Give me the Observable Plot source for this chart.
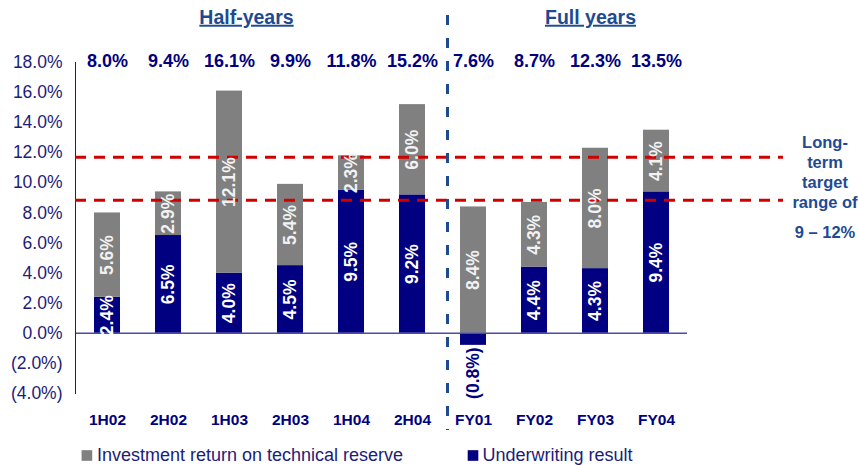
<!DOCTYPE html>
<html><head><meta charset="utf-8">
<script src="https://cdn.jsdelivr.net/npm/d3@7"></script>
<script src="https://cdn.jsdelivr.net/npm/@observablehq/plot@0.6"></script>
<style>html,body{margin:0;padding:0;background:#fff}</style>
</head><body><div id="chart"></div>
<script>
const categories = ["1H02","2H02","1H03","2H03","1H04","2H04","FY01","FY02","FY03","FY04"];
const underwriting = [2.4, 6.5, 4.0, 4.5, 9.5, 9.2, -0.8, 4.4, 4.3, 9.4];
const investment   = [5.6, 2.9, 12.1, 5.4, 2.3, 6.0, 8.4, 4.3, 8.0, 4.1];
const totals       = [8.0, 9.4, 16.1, 9.9, 11.8, 15.2, 7.6, 8.7, 12.3, 13.5];
const yTicks = [-4, -2, 0, 2, 4, 6, 8, 10, 12, 14, 16, 18];
const targetLines = [11.7, 8.85];
const seriesNames = ["Investment return on technical reserve", "Underwriting result"];
const groupTitles = ["Half-years", "Full years"];
const targetText = "Long-\nterm\ntarget\nrange of";
const targetRange = "9 – 12%";

const NAVY = "#000080", GRAY = "#808080", HEAD = "#1f4a92", RED = "#d00000", TXT = "#1c1c7a";
const FONT = "'Liberation Sans', Arial, sans-serif";
const pct = v => v < 0 ? `(${Math.abs(v).toFixed(1)}%)` : `${v.toFixed(1)}%`;

const rows = [
  ...categories.map((c, i) => ({cat: c, series: seriesNames[1], value: underwriting[i]})),
  ...categories.map((c, i) => ({cat: c, series: seriesNames[0], value: investment[i]}))
];
const navyLabels = categories.map((c, i) => ({cat: c, u: underwriting[i]})).filter(d => d.u > 0);
const negLabels = categories.map((c, i) => ({cat: c, u: underwriting[i]})).filter(d => d.u < 0);
const grayLabels = categories.map((c, i) => ({cat: c, base: Math.max(0, underwriting[i]), v: investment[i]}));

const chart = Plot.plot({
  width: 858, height: 465,
  marginLeft: 75, marginRight: 171, marginTop: 62, marginBottom: 72,
  style: {fontFamily: FONT, background: "#fff", overflow: "visible"},
  x: {domain: categories, paddingInner: 0.58, paddingOuter: 0.29},
  y: {domain: [-4, 18]},
  color: {domain: seriesNames, range: [GRAY, NAVY]},
  marks: [
    Plot.barY(rows, {x: "cat", y: "value", fill: "series"}),
    Plot.ruleY([0], {stroke: "#4b4ba8", strokeWidth: 1.5}),
    Plot.frame({anchor: "left", stroke: TXT, strokeWidth: 1}),
    Plot.axisY({ticks: yTicks, tickFormat: pct, tickSize: 0, tickPadding: 13, fontSize: 17.5, fill: TXT}),
    Plot.axisX({tickSize: 0, tickPadding: 20, fontSize: 15.5, fontWeight: "bold", fill: NAVY}),
    Plot.ruleY(targetLines, {stroke: RED, strokeWidth: 3, strokeDasharray: "11,8", insetRight: -96}),
    Plot.ruleX(["2H04"], {stroke: HEAD, strokeWidth: 3, strokeDasharray: "10,13", dx: 35, insetTop: -47, insetBottom: -37}),
    Plot.text(navyLabels, {x: "cat", y: d => d.u / 2, text: d => pct(d.u), rotate: -90, fill: "#fff", fontSize: 17.5, fontWeight: "bold"}),
    Plot.text(grayLabels, {x: "cat", y: d => d.base + d.v / 2, text: d => pct(d.v), rotate: -90, fill: "#f2f2f2", fontSize: 17.5, fontWeight: "bold"}),
    Plot.text(negLabels, {x: "cat", y: "u", text: d => pct(d.u), rotate: -90, textAnchor: "end", dy: 2, fill: NAVY, fontSize: 17.5, fontWeight: "bold"}),
    Plot.text(categories, {x: d => d, y: 18, text: (d, i) => pct(totals[i]), dy: -1, fill: NAVY, fontSize: 18, fontWeight: "bold"}),
    Plot.text([{c: "1H03", t: groupTitles[0]}],
      {x: "c", text: "t", frameAnchor: "top", lineAnchor: "middle", dy: -45, dx: 17, fill: HEAD, fontSize: 19.5, fontWeight: "bold"}),
    Plot.text([{c: "FY03", t: groupTitles[1]}],
      {x: "c", text: "t", frameAnchor: "top", lineAnchor: "middle", dy: -45, dx: -5, fill: HEAD, fontSize: 19.5, fontWeight: "bold"}),
    Plot.text([targetText], {frameAnchor: "top-right", lineAnchor: "middle", dx: 137.5, dy: 109, lineHeight: 1.2, textAnchor: "middle", fill: HEAD, fontSize: 16.5, fontWeight: "bold"}),
    Plot.text([targetRange], {frameAnchor: "top-right", lineAnchor: "middle", dx: 137.5, dy: 170, textAnchor: "middle", fill: HEAD, fontSize: 16.5, fontWeight: "bold"}),
    Plot.dot([{c: "1H02", s: seriesNames[0]}],
      {x: "c", y: -4, dy: 62, dx: -20.6, symbol: "square", r: 6, fill: "s"}),
    Plot.dot([{c: "FY01", s: seriesNames[1]}],
      {x: "c", y: -4, dy: 62, dx: -0.5, symbol: "square", r: 6, fill: "s"}),
    Plot.text([{c: "1H02", s: seriesNames[0]}], {x: "c", text: "s", y: -4, lineAnchor: "middle", dy: 62, dx: -10.6, textAnchor: "start", fill: TXT, fontSize: 18}),
    Plot.text([{c: "FY01", s: seriesNames[1]}], {x: "c", text: "s", y: -4, lineAnchor: "middle", dy: 62, dx: 9, textAnchor: "start", fill: TXT, fontSize: 18})
  ]
});
document.getElementById("chart").appendChild(chart);
chart.querySelectorAll("text").forEach(t => {
  if (t.textContent === groupTitles[0] || t.textContent === groupTitles[1]) {
    t.style.textDecoration = "underline";
  }
});
</script></body></html>
